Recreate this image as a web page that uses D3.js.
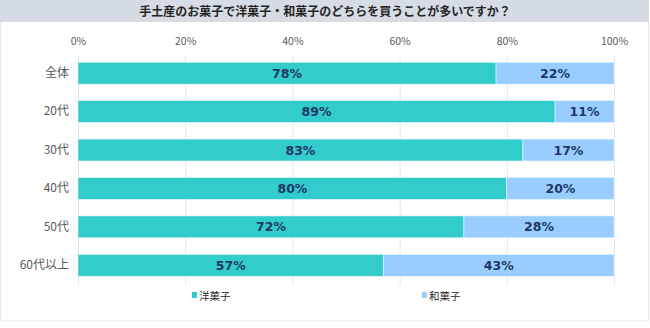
<!DOCTYPE html>
<html><head><meta charset="utf-8">
<script src="https://cdn.jsdelivr.net/npm/d3@7"></script>
<style>
html,body{margin:0;padding:0;background:#fff;}
svg{display:block;font-family:"Noto Sans CJK JP","Noto Sans",sans-serif;}
</style></head>
<body>
<script>
const title = "手土産のお菓子で洋菓子・和菓子のどちらを買うことが多いですか？";
const categories = ["全体","20代","30代","40代","50代","60代以上"];
const seriesNames = ["洋菓子","和菓子"];
const yogashi = [78,89,83,80,72,57];
const wagashi = [22,11,17,20,28,43];
const tickValues = [0,20,40,60,80,100];
const colors = ["#33CCCC","#99CCFF"];

const W=650,H=328;
const svg=d3.select("body").append("svg").attr("width",W).attr("height",H);

// frame
svg.append("rect").attr("x",0.5).attr("y",0.5).attr("width",648).attr("height",320.5)
  .attr("fill","#fff").attr("stroke","#e6e8ee");
svg.append("rect").attr("x",0).attr("y",0).attr("width",649).attr("height",22).attr("fill","#d6dce4");
svg.append("text").attr("x",325).attr("y",15.5).attr("text-anchor","middle")
  .attr("font-size",12).attr("font-weight","bold").attr("fill","#262626").text(title);

const x=d3.scaleLinear().domain([0,100]).range([78,614]);
const y=d3.scaleBand().domain(categories).range([54,284.5]).paddingInner(0.43).paddingOuter(0.215);

// grid
svg.append("g").selectAll("line").data(tickValues).join("line")
  .attr("x1",d=>x(d)+0.5).attr("x2",d=>x(d)+0.5).attr("y1",55).attr("y2",285)
  .attr("stroke","#e3e6ec").attr("stroke-width",1);

// tick labels via axis
const ax=svg.append("g").attr("transform","translate(0,45)")
  .call(d3.axisTop(x).tickValues(tickValues).tickFormat(d=>d+"%").tickSize(0).tickPadding(0));
ax.select(".domain").remove();
ax.selectAll("text").attr("font-size",10.5).attr("fill","#595959").attr("font-family","'Noto Sans CJK JP',sans-serif");

// category axis
const ay=svg.append("g").attr("transform","translate(69,0)")
  .call(d3.axisLeft(y).tickSize(0).tickPadding(0));
ay.select(".domain").remove();
ay.selectAll("text").attr("font-size",12).attr("fill","#595959").attr("font-family","'Noto Sans CJK JP',sans-serif");

const rows=categories.map((c,i)=>({c,vals:[yogashi[i],wagashi[i]]}));
const segs=[];
rows.forEach(r=>{let acc=0;r.vals.forEach((v,j)=>{segs.push({c:r.c,x0:acc,x1:acc+v,v,j});acc+=v;});});

svg.append("g").selectAll("rect").data(segs).join("rect")
  .attr("x",d=>x(d.x0)).attr("width",d=>x(d.x1)-x(d.x0))
  .attr("y",d=>y(d.c)).attr("height",y.bandwidth())
  .attr("fill",d=>colors[d.j]).attr("stroke","#e8f6ff").attr("stroke-width",0.6);

svg.append("g").selectAll("text").data(segs).join("text")
  .attr("x",d=>(x(d.x0)+x(d.x1))/2).attr("y",d=>y(d.c)+y.bandwidth()/2+4.5)
  .attr("text-anchor","middle").attr("font-size",12.5).attr("font-weight","bold")
  .attr("font-family","'DejaVu Sans',sans-serif")
  .attr("fill","#203864").text(d=>d.v+"%");

// legend
const legX=[192,422];
const lg=svg.append("g").selectAll("g").data(seriesNames).join("g")
  .attr("transform",(d,i)=>`translate(${legX[i]},296)`);
lg.append("rect").attr("x",0).attr("y",-4).attr("width",5).attr("height",6).attr("fill",(d,i)=>colors[i]);
lg.append("text").attr("x",7).attr("y",3.5).attr("font-size",10.5).attr("fill","#262626").text(d=>d);
</script>
</body></html>
